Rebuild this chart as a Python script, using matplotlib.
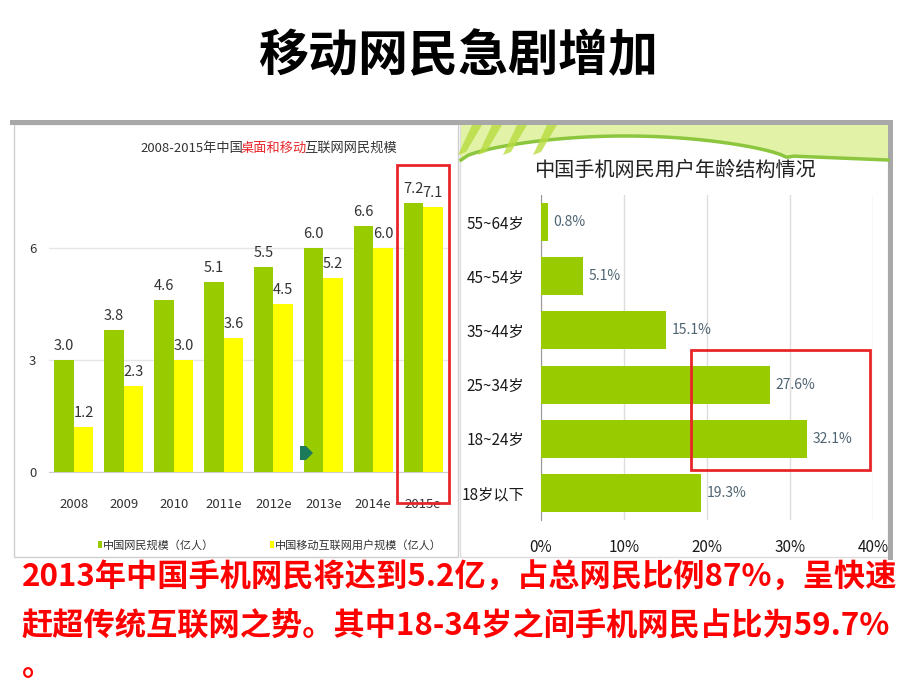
# 移动网民急剧增加 - slide recreation
import numpy as np
import matplotlib.pyplot as plt
from matplotlib.patches import Rectangle, Polygon

plt.rcParams['font.family'] = ['Noto Sans CJK SC', 'DejaVu Sans']

# data - left chart
years = ['2008', '2009', '2010', '2011e', '2012e', '2013e', '2014e', '2015e']
netizens = [3.0, 3.8, 4.6, 5.1, 5.5, 6.0, 6.6, 7.2]
mobile_users = [1.2, 2.3, 3.0, 3.6, 4.5, 5.2, 6.0, 7.1]
left_yticks = [0, 3, 6]

# data - right chart (bottom to top)
age_groups = ['18岁以下', '18~24岁', '25~34岁', '35~44岁', '45~54岁', '55~64岁']
age_share = [19.3, 32.1, 27.6, 15.1, 5.1, 0.8]
right_xticks = [0, 10, 20, 30, 40]

W, H = 920, 690
fig = plt.figure(figsize=(W / 100, H / 100), dpi=100)


def fx(x):
    return x / W


def fy(y):
    return 1 - y / H


def axes_px(x0, y0, x1, y1):
    return fig.add_axes([fx(x0), fy(y1), fx(x1) - fx(x0), (y1 - y0) / H])


def frect(x0, y0, x1, y1, **kw):
    fig.add_artist(Rectangle((fx(x0), fy(y1)), fx(x1) - fx(x0), (y1 - y0) / H,
                             transform=fig.transFigure, **kw))


GREEN = '#99cc00'
YELLOW = '#ffff00'
RED = '#e8262a'

# slide title
fig.text(fx(458), fy(57), '移动网民急剧增加', fontsize=36, fontweight='bold',
         ha='center', va='center', color='black')

# ---------------- left panel ----------------
frect(14, 124, 458, 557, fill=False, edgecolor='#cfcfcf', lw=1, zorder=-2)
frect(10, 120, 458, 125, facecolor='#a8a8a8', edgecolor='none', zorder=-2)

# chart title with red part, pieces chained one after another
title_parts = [('2008-2015年中国', '#333333', -2), ('桌面和移动', RED, -3),
               ('互联网网民规模', '#333333', 0)]
r = fig.canvas.get_renderer()
xpos = 140
for txt, col, adj in title_parts:
    t = fig.text(fx(xpos), fy(152), txt, fontsize=9.5, color=col,
                 ha='left', va='baseline')
    xpos += t.get_window_extent(r).width + adj

axL = axes_px(49, 181, 448, 472)
x = np.arange(len(years))
bw = 0.39
axL.bar(x - bw / 2, netizens, bw, color=GREEN, zorder=3)
axL.bar(x + bw / 2, mobile_users, bw, color=YELLOW, zorder=3)
for xi, a, b in zip(x, netizens, mobile_users):
    axL.annotate(f'{a:.1f}', (xi - bw / 2, a), xytext=(0, 5), textcoords='offset points',
                 ha='center', va='bottom', fontsize=10.5, color='#333333')
    axL.annotate(f'{b:.1f}', (xi + bw / 2, b), xytext=(0, 5), textcoords='offset points',
                 ha='center', va='bottom', fontsize=10.5, color='#333333')
axL.set_xlim(-0.5, len(years) - 0.5)
axL.set_ylim(0, 7.8)
axL.set_yticks(left_yticks)
axL.set_yticklabels([str(v) for v in left_yticks])
axL.set_xticks(x)
axL.set_xticklabels(years)
axL.tick_params(length=0, labelsize=9.5, colors='#333333')
axL.tick_params(axis='x', pad=19)
axL.tick_params(axis='y', pad=9)
axL.grid(axis='y', color='#e6e6e6', lw=1, zorder=0)
for s in ['top', 'right', 'left']:
    axL.spines[s].set_visible(False)
axL.spines['bottom'].set_color('#cccccc')
axL.patch.set_alpha(0)

# small arrow near 2013e
fig.add_artist(Polygon([(fx(300), fy(446)), (fx(306), fy(446)), (fx(313), fy(453)),
                        (fx(306), fy(460)), (fx(300), fy(460))],
                       closed=True, transform=fig.transFigure,
                       facecolor='#1b7a5a', edgecolor='none'))

# red highlight around 2015e
frect(397, 165, 449, 503, fill=False, edgecolor=RED, lw=2)

# legend
frect(98, 541, 102, 548, facecolor=GREEN, edgecolor='none')
fig.text(fx(103), fy(545), '中国网民规模（亿人）', fontsize=8, color='#333333',
         ha='left', va='center')
frect(270, 541, 274, 548, facecolor=YELLOW, edgecolor='none')
fig.text(fx(275), fy(545), '中国移动互联网用户规模（亿人）', fontsize=8, color='#333333',
         ha='left', va='center')

# ---------------- right panel ----------------
frect(460, 124, 888, 557, facecolor='white', edgecolor='#dddddd', lw=1, zorder=-2)
frect(458, 120, 893, 125, facecolor='#a8a8a8', edgecolor='none', zorder=-1)
frect(888, 120, 893, 560, facecolor='#a8a8a8', edgecolor='none', zorder=-1)

# decorative green swoosh
cx = np.linspace(461, 888, 60)
t = (cx - 461) / 427
cy = np.where(t < 0.77,
              160 - 24 * np.sin(np.pi * np.clip(t * 1.3, 0, 1)) ** 0.6,
              160 - 4 * (1 - (t - 0.77) / 0.23))
pts = [(fx(461), fy(125))] + [(fx(a), fy(b)) for a, b in zip(cx, cy)] + [(fx(888), fy(125))]
fig.add_artist(Polygon(pts, closed=True, transform=fig.transFigure,
                       facecolor='#e2f2a6', edgecolor='none', zorder=-1))
fig.add_artist(plt.Line2D([fx(a) for a in cx], [fy(b) for b in cy],
                          transform=fig.transFigure, color='#8cc63f', lw=2.5, zorder=-1))
for sx in [472, 492, 517, 547]:
    fig.add_artist(Polygon([(fx(sx), fy(125)), (fx(sx + 10), fy(125)),
                            (fx(sx - 6), fy(152)), (fx(sx - 14), fy(155))],
                           closed=True, transform=fig.transFigure,
                           facecolor='#b8dc40', edgecolor='none', alpha=0.8, zorder=-1))

fig.text(fx(675), fy(170), '中国手机网民用户年龄结构情况', fontsize=14.5,
         color='#222222', ha='center', va='center')

axR = axes_px(541, 195, 873, 520)
yy = np.arange(len(age_groups))
axR.barh(yy, age_share, height=0.7, color=GREEN, zorder=3)
for yi, v in zip(yy, age_share):
    axR.annotate(f'{v}%', (v, yi), xytext=(4, 0), textcoords='offset points',
                 ha='left', va='center', fontsize=10, color='#4f6472')
axR.set_xlim(0, 40)
axR.set_ylim(-0.5, len(age_groups) - 0.5)
axR.set_yticks(yy)
axR.set_yticklabels(age_groups)
axR.set_xticks(right_xticks)
axR.set_xticklabels([f'{v}%' for v in right_xticks])
axR.tick_params(length=0, labelsize=11, colors='#1a1a1a')
axR.tick_params(axis='x', pad=14)
axR.tick_params(axis='y', pad=12)
axR.grid(axis='x', color='#dddddd', lw=1, zorder=0)
for s in ['top', 'right', 'bottom']:
    axR.spines[s].set_visible(False)
axR.spines['left'].set_color('#999999')
axR.patch.set_alpha(0)

# red highlight box on 18-34
frect(691, 350, 870, 470, fill=False, edgecolor=RED, lw=2)

# ---------------- bottom text ----------------
lines = ['2013年中国手机网民将达到5.2亿，占总网民比例87%，呈快速',
         '赶超传统互联网之势。其中18-34岁之间手机网民占比为59.7%',
         '。']
line_y = [578, 626, 666]
for ln, ly in zip(lines, line_y):
    fig.text(fx(22), fy(ly), ln, fontsize=22.5, fontweight='bold',
             color='#ff0000', ha='left', va='center')

fig.savefig('out.png', dpi=100)
